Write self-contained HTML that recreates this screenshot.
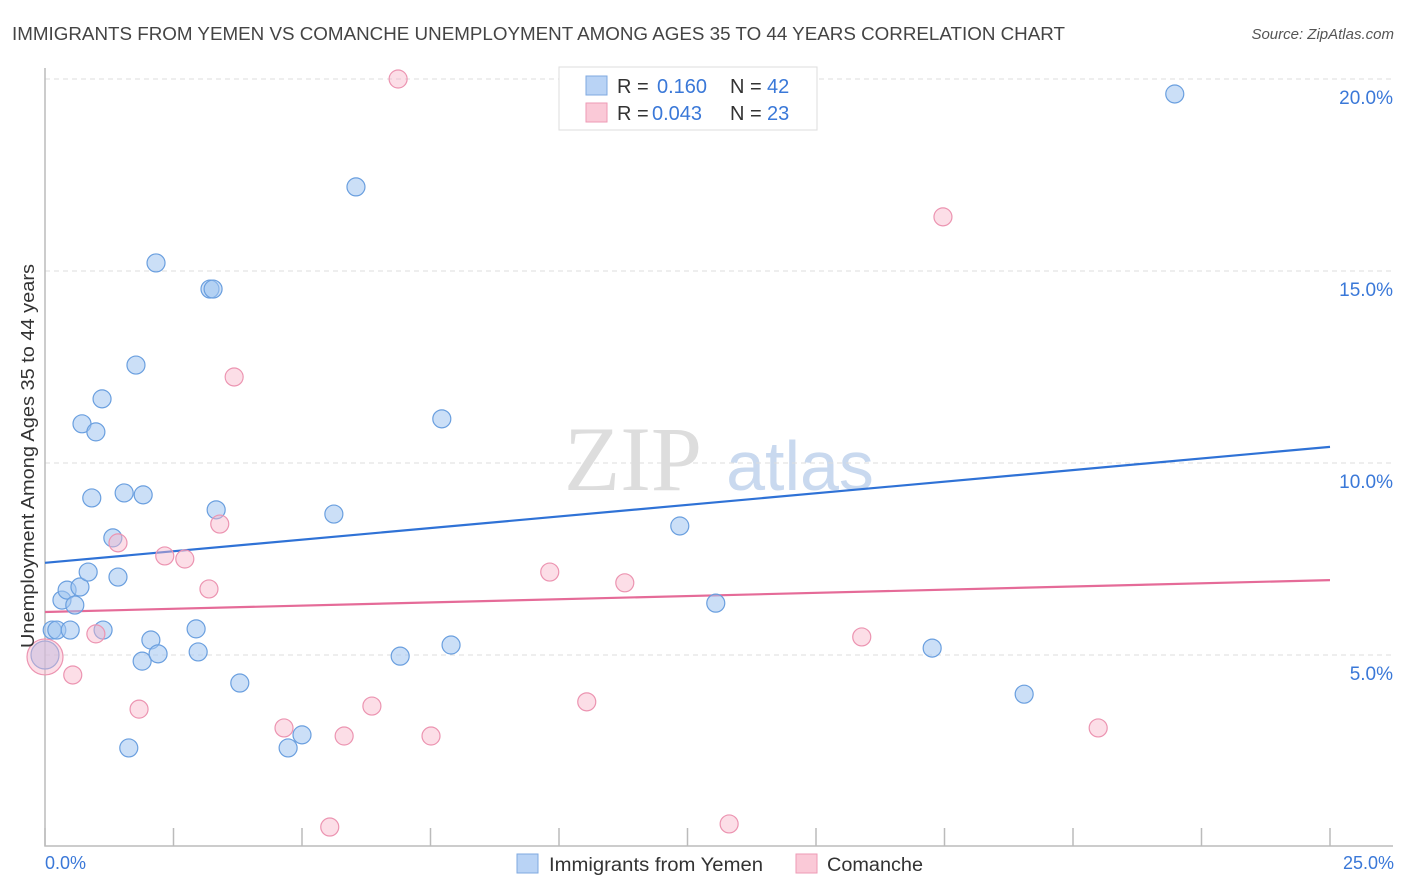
<!DOCTYPE html>
<html><head><meta charset="utf-8"><style>
html,body{margin:0;padding:0;background:#fff;}
svg{display:block;font-family:"Liberation Sans",sans-serif;}
</style></head><body>
<svg id="chart" width="1406" height="892">
<text x="12" y="40" font-size="18" fill="#444" textLength="1053" lengthAdjust="spacingAndGlyphs">IMMIGRANTS FROM YEMEN VS COMANCHE UNEMPLOYMENT AMONG AGES 35 TO 44 YEARS CORRELATION CHART</text>
<text x="1394" y="39" font-size="15" fill="#555" text-anchor="end" font-style="italic">Source: ZipAtlas.com</text>
<g>
<text x="633" y="490" font-size="92" fill="#ddd" font-family="Liberation Serif,serif" text-anchor="middle">ZIP</text>
<text x="800" y="490" font-size="70" fill="#c9d9ef" text-anchor="middle">atlas</text>
</g>
<g id="grid"></g>
<g id="axes"></g>
<g id="lines"></g>
<g id="points"></g>
<text transform="translate(34,456) rotate(-90)" font-size="18" fill="#333" text-anchor="middle" textLength="384" lengthAdjust="spacingAndGlyphs">Unemployment Among Ages 35 to 44 years</text>
<text x="45" y="869" font-size="18" fill="#3a78d8">0.0%</text>
<text x="1394" y="869" font-size="18" fill="#3a78d8" text-anchor="end">25.0%</text>
<g>
<rect x="559" y="67" width="258" height="63" fill="#fff" stroke="#ddd"/>
<rect x="586" y="76" width="21" height="19" fill="#b9d3f5" stroke="#7fa9e0"/>
<rect x="586" y="103" width="21" height="19" fill="#fac9d7" stroke="#ee9ab5"/>
<text x="617" y="93" font-size="20" fill="#333">R = <tspan fill="#3a78d8" x="657">0.160</tspan><tspan x="730">N = </tspan><tspan fill="#3a78d8" x="767">42</tspan></text>
<text x="617" y="120" font-size="20" fill="#333">R = <tspan fill="#3a78d8" x="652">0.043</tspan><tspan x="730">N = </tspan><tspan fill="#3a78d8" x="767">23</tspan></text>
</g>
<g>
<rect x="517" y="854" width="21" height="19" fill="#b9d3f5" stroke="#7fa9e0"/>
<text x="549" y="871" font-size="19" fill="#333" textLength="214" lengthAdjust="spacingAndGlyphs">Immigrants from Yemen</text>
<rect x="796" y="854" width="21" height="19" fill="#fac9d7" stroke="#ee9ab5"/>
<text x="827" y="871" font-size="19" fill="#333" textLength="96" lengthAdjust="spacingAndGlyphs">Comanche</text>
</g>
</svg>
<script>
const yTicks=[5,10,15,20];
const yTickLabels=["5.0%","10.0%","15.0%","20.0%"];
const xTicks=[0,2.5,5,7.5,10,12.5,15,17.5,20,22.5,25];
const blueX=[0,0.14,0.23,0.33,0.43,0.49,0.58,0.68,0.72,0.84,0.91,0.99,1.11,1.13,1.32,1.42,1.54,1.63,1.77,1.89,1.91,2.06,2.16,2.20,2.94,2.98,3.21,3.27,3.33,3.79,4.73,5.00,5.62,6.05,6.91,7.72,7.90,12.35,13.05,17.26,19.05,21.98];
const blueY=[5.0,5.65,5.65,6.43,6.69,5.65,6.30,6.77,11.02,7.16,9.09,10.81,11.67,5.65,8.05,7.03,9.22,2.58,12.55,4.84,9.17,5.39,15.21,5.03,5.68,5.08,14.53,14.53,8.78,4.27,2.58,2.92,8.67,17.19,4.97,11.15,5.26,8.36,6.35,5.18,3.98,19.61];
const pinkX=[0,0.54,0.99,1.42,1.83,2.33,2.72,3.19,3.40,3.68,4.65,5.54,5.82,6.36,6.87,7.51,9.82,10.54,11.28,13.31,15.89,17.47,20.49];
const pinkY=[4.95,4.48,5.55,7.92,3.59,7.58,7.50,6.72,8.41,12.24,3.10,0.52,2.89,3.67,20.0,2.89,7.16,3.78,6.88,0.60,5.47,16.41,3.10];
const blueTrend=[7.40,10.42];
const pinkTrend=[6.12,6.95];
const X=v=>45+v*51.4, Y=v=>847-v*38.4;
const NS="http://www.w3.org/2000/svg";
function mk(tag,parent,attrs){const e=document.createElementNS(NS,tag);for(const k in attrs)e.setAttribute(k,attrs[k]);document.getElementById(parent).appendChild(e);return e;}
yTicks.forEach((t,i)=>{
 const l=mk('line','grid',{x1:45,x2:1393,y1:Y(t),y2:Y(t),stroke:'#ddd','stroke-dasharray':'5,4'});
 
 
 const tx=mk('text','grid',{x:1393,y:Y(t)+25,'font-size':19,fill:'#3a78d8','text-anchor':'end'});
 tx.textContent=yTickLabels[i];
 
 
});
const ax=mk('path','axes',{d:'M45,68V846H1393',fill:'none',stroke:'#bbb','stroke-width':1.5});


xTicks.forEach(t=>{
 const l=mk('line','axes',{x1:X(t),x2:X(t),y1:828,y2:846,stroke:'#bbb','stroke-width':1.5});
 
 
});
const bl=mk('line','lines',{x1:X(0),x2:X(25),y1:Y(blueTrend[0]),y2:Y(blueTrend[1]),stroke:'#2f72d6','stroke-width':2.2});


const pl=mk('line','lines',{x1:X(0),x2:X(25),y1:Y(pinkTrend[0]),y2:Y(pinkTrend[1]),stroke:'#e56b98','stroke-width':2.2});


blueX.forEach((x,i)=>{
 const c=mk('circle','points',{cx:X(x),cy:Y(blueY[i]),r:i===0?14:9,fill:'rgba(160,196,240,0.55)',stroke:'#6a9fdf','stroke-width':1.2});
 
 
});
pinkX.forEach((x,i)=>{
 const c=mk('circle','points',{cx:X(x),cy:Y(pinkY[i]),r:i===0?18:9,fill:'rgba(248,182,202,0.45)',stroke:'#ec94b1','stroke-width':1.2});
 
 
});
</script>
</body></html>
